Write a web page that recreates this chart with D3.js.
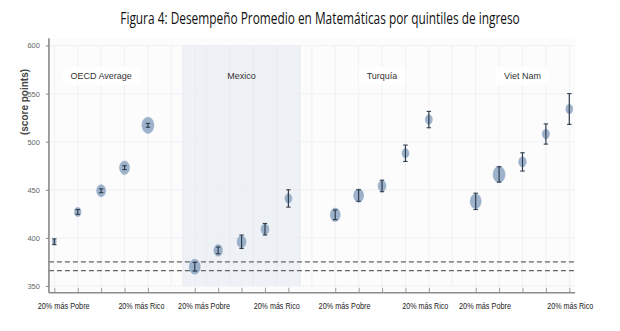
<!DOCTYPE html>
<html>
<head>
<meta charset="utf-8">
<script src="https://cdn.jsdelivr.net/npm/d3@7/dist/d3.min.js"></script>
<style>
  html, body { margin: 0; padding: 0; background: #ffffff; }
  svg { display: block; }
</style>
</head>
<body>
<svg id="chart" width="620" height="331"></svg>
<script>
// ---------- DATA ----------
const title = "Figura 4: Desempeño Promedio en Matemáticas por quintiles de ingreso";
const yAxisLabel = "(score points)";
const groups = ["OECD Average", "Mexico", "Turquía", "Viet Nam"];
const quintiles = ["Q1", "Q2", "Q3", "Q4", "Q5"];
const tickLabelPoor = "20% más Pobre";
const tickLabelRich = "20% más Rico";
const yTicks = [350, 400, 450, 500, 550, 600];
const refLines = [375, 366];

// mean score per quintile (poorest -> richest)
const oecdScores    = [396, 427, 449, 473, 517];
const mexicoScores  = [370, 387, 396, 409, 441];
const turquiaScores = [424, 444, 454, 488, 523];
const vietnamScores = [438, 466, 479, 508, 534];

// half-width of confidence interval (score points)
const oecdErr    = [3, 2.5, 2, 2, 2];
const mexicoErr  = [4.5, 3.5, 7, 6, 9];
const turquiaErr = [5, 6, 6, 8.5, 8.5];
const vietnamErr = [8.5, 8, 9.5, 10.5, 16];

// relative marker weight (share of students)
const oecdW    = [2, 3.3, 4.5, 5, 6];
const mexicoW  = [5.5, 4.3, 4.5, 4, 3.5];
const turquiaW = [5, 5, 4, 3.5, 3.5];
const vietnamW = [5.5, 6, 3.8, 3.6, 3.4];

const scoreSets = [oecdScores, mexicoScores, turquiaScores, vietnamScores];
const errSets = [oecdErr, mexicoErr, turquiaErr, vietnamErr];
const weightSets = [oecdW, mexicoW, turquiaW, vietnamW];

// ---------- BUILD ----------
const perGroup = quintiles.length + 1; // one empty slot between groups
const points = [];
groups.forEach((g, gi) => {
  quintiles.forEach((q, qi) => {
    points.push({
      group: g, gi, qi,
      pos: gi * perGroup + qi,
      score: scoreSets[gi][qi],
      err: errSets[gi][qi],
      w: weightSets[gi][qi]
    });
  });
});
const lastPos = (groups.length - 1) * perGroup + quintiles.length - 1;

const svg = d3.select("#chart");

const x = d3.scaleLinear().domain([0, lastPos]).range([54.3, 569.3]);
const y = d3.scaleLinear().domain([350, 600]).range([286, 45.5]);
const rx = d3.scaleLinear().domain([0, 6]).range([0, 6]);

const xMin = x(-0.23), xMax = x(lastPos + 0.25);
const yMin = y(343), yMax = y(607.5);

// plot background
svg.append("rect")
  .attr("x", xMin).attr("y", yMax)
  .attr("width", xMax - xMin).attr("height", yMin - yMax)
  .attr("fill", "#fcfcfd");

// Mexico shading
const mexIdx = groups.indexOf("Mexico");
svg.append("rect")
  .attr("x", x(mexIdx * perGroup - 0.5))
  .attr("y", y(600))
  .attr("width", x(mexIdx * perGroup + quintiles.length - 0.5) - x(mexIdx * perGroup - 0.5))
  .attr("height", y(350) - y(600))
  .attr("fill", "#eef1f5");

// grid lines
const gridG = svg.append("g");
const vPos = d3.range(0, lastPos + 1);
gridG.selectAll("line.v")
  .data(vPos).join("line").attr("class", "v")
  .attr("x1", d => x(d)).attr("x2", d => x(d))
  .attr("y1", y(600)).attr("y2", y(350))
  .attr("stroke", "#eceef1").attr("stroke-width", 0.8);
gridG.selectAll("line.vh")
  .data(d3.range(mexIdx * perGroup - 0.5, mexIdx * perGroup + quintiles.length, 1)).join("line").attr("class", "vh")
  .attr("x1", d => x(d)).attr("x2", d => x(d))
  .attr("y1", y(600)).attr("y2", y(350))
  .attr("stroke", "#e4e8ec").attr("stroke-width", 0.8);
gridG.selectAll("line.h")
  .data(yTicks).join("line").attr("class", "h")
  .attr("x1", xMin).attr("x2", xMax)
  .attr("y1", d => y(d)).attr("y2", d => y(d))
  .attr("stroke", "#eceef1").attr("stroke-width", 0.8);

// reference dashed lines
svg.append("g").selectAll("line")
  .data(refLines).join("line")
  .attr("x1", xMin).attr("x2", xMax)
  .attr("y1", d => y(d)).attr("y2", d => y(d))
  .attr("stroke", "#666").attr("stroke-width", 1.2)
  .attr("stroke-dasharray", "5,3");

// axes
const yAxis = d3.axisLeft(y).tickValues(yTicks).tickSize(3).tickPadding(6);
const yG = svg.append("g").attr("transform", `translate(${xMin},0)`).call(yAxis);
yG.select(".domain").remove();
yG.selectAll(".tick line").attr("stroke", "#888");
yG.selectAll(".tick text").attr("fill", "#666")
  .style("font-family", "'Liberation Sans',Arial,sans-serif")
  .style("font-size", "7.5px");
svg.append("line")
  .attr("x1", xMin).attr("x2", xMin).attr("y1", yMax).attr("y2", yMin)
  .attr("stroke", "#8a8a8a").attr("stroke-width", 1.6);

const xAxis = d3.axisBottom(x).tickValues(points.map(p => p.pos)).tickSize(-5).tickFormat("");
const xG = svg.append("g").attr("transform", `translate(0,${yMin})`).call(xAxis);
xG.select(".domain").remove();
xG.selectAll(".tick line").attr("stroke", "#999");
svg.append("line")
  .attr("x1", xMin).attr("x2", xMax).attr("y1", yMin).attr("y2", yMin)
  .attr("stroke", "#8a8a8a").attr("stroke-width", 1.6);

// x tick labels
const labelFont = "'Liberation Sans',Arial,sans-serif";
const richOffsets = [-0.28, -0.5, -0.15, 0.04];
const xl = svg.append("g");
groups.forEach((g, gi) => {
  xl.append("text")
    .attr("x", x(gi * perGroup + 0.4) - 26).attr("y", 309)
    .attr("textLength", 52).attr("lengthAdjust", "spacingAndGlyphs")
    .style("font-family", labelFont).style("font-size", "8.8px")
    .attr("fill", "#222").text(tickLabelPoor);
  xl.append("text")
    .attr("x", x(gi * perGroup + quintiles.length - 1 + richOffsets[gi]) - 23).attr("y", 309)
    .attr("textLength", 46).attr("lengthAdjust", "spacingAndGlyphs")
    .style("font-family", labelFont).style("font-size", "8.8px")
    .attr("fill", "#222").text(tickLabelRich);
});

// group labels
groups.forEach((g, gi) => {
  const cx = x(gi * perGroup + 2);
  const lg = svg.append("g");
  const t = lg.append("text")
    .attr("x", cx).attr("y", 79)
    .attr("text-anchor", "middle")
    .style("font-family", "'Liberation Sans',Arial,sans-serif")
    .style("font-size", "9px")
    .attr("fill", "#333").text(g);
  if (g !== "Mexico") {
    const bb = t.node().getBBox();
    lg.insert("rect", "text")
      .attr("x", bb.x - 8).attr("y", bb.y - 4)
      .attr("width", bb.width + 16).attr("height", bb.height + 8)
      .attr("fill", "#ffffff").attr("opacity", 0.85);
  }
});

// markers
const mk = svg.append("g");
const pg = mk.selectAll("g.pt").data(points).join("g").attr("class", "pt");
pg.append("ellipse")
  .attr("cx", d => x(d.pos)).attr("cy", d => y(d.score))
  .attr("rx", d => rx(d.w)).attr("ry", d => rx(d.w) * 1.35)
  .attr("fill", "#7f9bba").attr("fill-opacity", 0.75)
  .attr("stroke", "#8aa3c0").attr("stroke-width", 0.5);
pg.append("line")
  .attr("x1", d => x(d.pos)).attr("x2", d => x(d.pos))
  .attr("y1", d => y(d.score - d.err)).attr("y2", d => y(d.score + d.err))
  .attr("stroke", "#2f3d4c").attr("stroke-width", 1.2);
pg.append("line")
  .attr("x1", d => x(d.pos) - 2.2).attr("x2", d => x(d.pos) + 2.2)
  .attr("y1", d => y(d.score + d.err)).attr("y2", d => y(d.score + d.err))
  .attr("stroke", "#2f3d4c").attr("stroke-width", 1.1);
pg.append("line")
  .attr("x1", d => x(d.pos) - 2.2).attr("x2", d => x(d.pos) + 2.2)
  .attr("y1", d => y(d.score - d.err)).attr("y2", d => y(d.score - d.err))
  .attr("stroke", "#2f3d4c").attr("stroke-width", 1.1);

// y axis label
svg.append("text")
  .attr("transform", `translate(28,102) rotate(-90)`)
  .attr("text-anchor", "middle")
  .style("font-family", "'Liberation Sans',Arial,sans-serif")
  .style("font-size", "10px").style("font-weight", "bold")
  .attr("fill", "#444").text(yAxisLabel);

// title: natural width fitted to ~400px, stretched vertically to mimic a condensed face
const titleText = svg.append("text")
  .attr("text-anchor", "middle")
  .style("font-family", "'Open Sans',Arial,sans-serif")
  .style("font-size", "12px")
  .attr("fill", "#111").text(title);
const tw = titleText.node().getComputedTextLength();
const sx = 400 / tw;
titleText.attr("transform", `translate(320,24) scale(${sx},1.35)`);
</script>
</body>
</html>
